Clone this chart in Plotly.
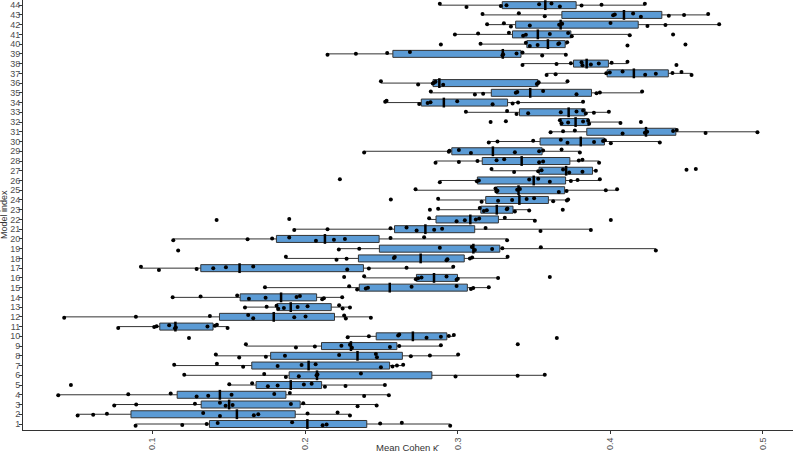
import numpy as np
import plotly.graph_objects as go

model_ids = list(range(1, 45))
x_ticks = [0.1, 0.2, 0.3, 0.4, 0.5]
x_tick_labels = ["0.1", "0.2", "0.3", "0.4", "0.5"]

model_01 = [0.0889, 0.1195, 0.1355, 0.1427, 0.1915, 0.2115, 0.2141, 0.2492, 0.2634, 0.2951]
model_02 = [0.0509, 0.0611, 0.0701, 0.1332, 0.1442, 0.1664, 0.1693, 0.2016, 0.2213, 0.2294]
model_03 = [0.0749, 0.0893, 0.1278, 0.1442, 0.1479, 0.1525, 0.1907, 0.1988, 0.2344, 0.2469]
model_04 = [0.0382, 0.0841, 0.1119, 0.1289, 0.1365, 0.1518, 0.1798, 0.1900, 0.2387, 0.2549]
model_05 = [0.0465, 0.1503, 0.1653, 0.1756, 0.1820, 0.1992, 0.2043, 0.2130, 0.2265, 0.2523]
model_06 = [0.1208, 0.1732, 0.1874, 0.1959, 0.2075, 0.2081, 0.2366, 0.2986, 0.3393, 0.3571]
model_07 = [0.1142, 0.1422, 0.1594, 0.1820, 0.1977, 0.2069, 0.2497, 0.2573, 0.2602, 0.2643]
model_08 = [0.1415, 0.1568, 0.1743, 0.1868, 0.2223, 0.2464, 0.2471, 0.2693, 0.2818, 0.3003]
model_09 = [0.1612, 0.1940, 0.2064, 0.2238, 0.2294, 0.2307, 0.2556, 0.2617, 0.2890, 0.3394]
model_10 = [0.1239, 0.2279, 0.2418, 0.2610, 0.2617, 0.2796, 0.2890, 0.2942, 0.2975, 0.3650]
model_11 = [0.0775, 0.1011, 0.1027, 0.1109, 0.1147, 0.1153, 0.1360, 0.1409, 0.1422, 0.1492]
model_12 = [0.0421, 0.0891, 0.1376, 0.1627, 0.1660, 0.1929, 0.2003, 0.2256, 0.2267, 0.2431]
model_13 = [0.1606, 0.1748, 0.1813, 0.1824, 0.1861, 0.1951, 0.2016, 0.2223, 0.2246, 0.2294]
model_14 = [0.1132, 0.1315, 0.1555, 0.1632, 0.1741, 0.1944, 0.1966, 0.2112, 0.2123, 0.2243]
model_15 = [0.1737, 0.2289, 0.2341, 0.2398, 0.2412, 0.2698, 0.2993, 0.3087, 0.3102, 0.3204]
model_16 = [0.2256, 0.2387, 0.2726, 0.2741, 0.2763, 0.2927, 0.2993, 0.3001, 0.3265, 0.3604]
model_17 = [0.0924, 0.1042, 0.1289, 0.1398, 0.1481, 0.1660, 0.2276, 0.2418, 0.2665, 0.2971]
model_18 = [0.1874, 0.2206, 0.2272, 0.2582, 0.2588, 0.2927, 0.2933, 0.3080, 0.3095, 0.3327]
model_19 = [0.1168, 0.2221, 0.2355, 0.2883, 0.3093, 0.3113, 0.3226, 0.3293, 0.3545, 0.4299]
model_20 = [0.1136, 0.1623, 0.1784, 0.1896, 0.2071, 0.2189, 0.2261, 0.2560, 0.2780, 0.3324]
model_21 = [0.1929, 0.2147, 0.2560, 0.2665, 0.2731, 0.2846, 0.2898, 0.3183, 0.3543, 0.3873]
model_22 = [0.1420, 0.1896, 0.2813, 0.2993, 0.3047, 0.3119, 0.3141, 0.3309, 0.3506, 0.4004]
model_23 = [0.2818, 0.2872, 0.3145, 0.3172, 0.3191, 0.3322, 0.3326, 0.3375, 0.3469, 0.3689]
model_24 = [0.2562, 0.2872, 0.3157, 0.3265, 0.3357, 0.3452, 0.3501, 0.3626, 0.3716, 0.3724]
model_25 = [0.2724, 0.3248, 0.3254, 0.3261, 0.3390, 0.3408, 0.3663, 0.3714, 0.3971, 0.4045]
model_26 = [0.2228, 0.2883, 0.3126, 0.3139, 0.3469, 0.3528, 0.3604, 0.3742, 0.3786, 0.3932]
model_27 = [0.3222, 0.3370, 0.3528, 0.3550, 0.3691, 0.3731, 0.3818, 0.3906, 0.4500, 0.4561]
model_28 = [0.2855, 0.3008, 0.3130, 0.3255, 0.3305, 0.3534, 0.3560, 0.3794, 0.3818, 0.3927]
model_29 = [0.2387, 0.2942, 0.2946, 0.3008, 0.3087, 0.3375, 0.3534, 0.3560, 0.3681, 0.3801]
model_30 = [0.3204, 0.3261, 0.3495, 0.3676, 0.3720, 0.3894, 0.3953, 0.3965, 0.4004, 0.4325]
model_31 = [0.3609, 0.3691, 0.3768, 0.4081, 0.4227, 0.4242, 0.4412, 0.4436, 0.4625, 0.4965]
model_32 = [0.3216, 0.3316, 0.3670, 0.3681, 0.3724, 0.3822, 0.3855, 0.3862, 0.4067, 0.4201]
model_33 = [0.3054, 0.3324, 0.3386, 0.3462, 0.3676, 0.3779, 0.3822, 0.3840, 0.3893, 0.3991]
model_34 = [0.2525, 0.2534, 0.2748, 0.2803, 0.2822, 0.2997, 0.3229, 0.3360, 0.3396, 0.3822]
model_35 = [0.2824, 0.3113, 0.3167, 0.3381, 0.3391, 0.3560, 0.3779, 0.3910, 0.3932, 0.4209]
model_36 = [0.2497, 0.2741, 0.2837, 0.2844, 0.2855, 0.2905, 0.3519, 0.3528, 0.3531, 0.3720]
model_37 = [0.3583, 0.3642, 0.3974, 0.3997, 0.4081, 0.4229, 0.4299, 0.4408, 0.4467, 0.4533]
model_38 = [0.3425, 0.3648, 0.3742, 0.3812, 0.3818, 0.3873, 0.3925, 0.4009, 0.4113, 0.4434]
model_39 = [0.2147, 0.2333, 0.2538, 0.2687, 0.3294, 0.3298, 0.3386, 0.3425, 0.3554, 0.3709]
model_40 = [0.2890, 0.3150, 0.3447, 0.3473, 0.3524, 0.3659, 0.3665, 0.3718, 0.4113, 0.4493]
model_41 = [0.2982, 0.3134, 0.3336, 0.3429, 0.3447, 0.3604, 0.3724, 0.3748, 0.4128, 0.4412]
model_42 = [0.3193, 0.3303, 0.3349, 0.3473, 0.3665, 0.3685, 0.4002, 0.4244, 0.4362, 0.4714]
model_43 = [0.3163, 0.3401, 0.3571, 0.4019, 0.4030, 0.4150, 0.4201, 0.4384, 0.4484, 0.4642]
model_44 = [0.2883, 0.3058, 0.3283, 0.3320, 0.3534, 0.3615, 0.3670, 0.3812, 0.3943, 0.4227]

models = [model_01, model_02, model_03, model_04, model_05, model_06, model_07, model_08,
          model_09, model_10, model_11, model_12, model_13, model_14, model_15, model_16,
          model_17, model_18, model_19, model_20, model_21, model_22, model_23, model_24,
          model_25, model_26, model_27, model_28, model_29, model_30, model_31, model_32,
          model_33, model_34, model_35, model_36, model_37, model_38, model_39, model_40,
          model_41, model_42, model_43, model_44]

q1s, meds, q3s, los, his = [], [], [], [], []
for vals in models:
    a = np.array(vals)
    a1, m, a3 = np.percentile(a, [25, 50, 75])
    iqr = a3 - a1
    q1s.append(a1); meds.append(m); q3s.append(a3)
    los.append(a[a >= a1 - 1.5 * iqr].min())
    his.append(a[a <= a3 + 1.5 * iqr].max())

fig = go.Figure()
fig.add_trace(go.Box(
    y=model_ids, q1=q1s, median=meds, q3=q3s, lowerfence=los, upperfence=his,
    orientation="h", fillcolor="rgb(91,155,213)",
    line=dict(color="#333333", width=1), whiskerwidth=0, width=0.72,
    boxpoints=False, showlegend=False, hoverinfo="skip"))

fig.add_trace(go.Scatter(
    x=meds, y=model_ids, mode="markers", showlegend=False, hoverinfo="skip",
    marker=dict(symbol="line-ns", size=7, line=dict(width=2.5, color="black"))))

px_, py_ = [], []
for k, vals in enumerate(models):
    for i, v in enumerate(vals):
        px_.append(v)
        py_.append(model_ids[k] + ((k * 37 + i * 11) % 9 - 4) * 0.045)
fig.add_trace(go.Scatter(
    x=px_, y=py_, mode="markers", showlegend=False, hoverinfo="skip",
    marker=dict(size=4, color="black")))

axis_font = dict(family="Liberation Sans, Arial, sans-serif", size=9, color="#4d4d4d")
fig.update_layout(
    width=794, height=453, margin=dict(l=23, r=1, t=0, b=23),
    paper_bgcolor="white", plot_bgcolor="white",
    font=dict(family="Liberation Sans, Arial, sans-serif"),
    xaxis=dict(range=[0.0151, 0.5198], tickvals=x_ticks, ticktext=x_tick_labels,
               tickangle=-90, ticks="outside", ticklen=3, tickcolor="#333333",
               showline=True, linecolor="#333333", linewidth=1, showgrid=False,
               zeroline=False, tickfont=axis_font, automargin=False),
    yaxis=dict(range=[0.384, 44.53], tickvals=model_ids, ticktext=[str(i) for i in model_ids],
               ticks="outside", ticklen=3, tickcolor="#333333", ticklabelstandoff=-3,
               showline=True, linecolor="#333333", linewidth=1, showgrid=False,
               zeroline=False, tickfont=axis_font, automargin=False),
    annotations=[
        dict(text="Mean Cohen \u03ba\u0304", xref="paper", yref="paper", x=0.5, y=0,
             xanchor="center", yanchor="top", yshift=-10, showarrow=False,
             font=dict(size=9.5, color="#333333")),
        dict(text="Model index", xref="paper", yref="paper", x=0, y=0.5,
             xanchor="center", yanchor="middle", xshift=-19, textangle=-90, showarrow=False,
             font=dict(size=9, color="#333333")),
    ],
)

fig.write_html("out.html")
